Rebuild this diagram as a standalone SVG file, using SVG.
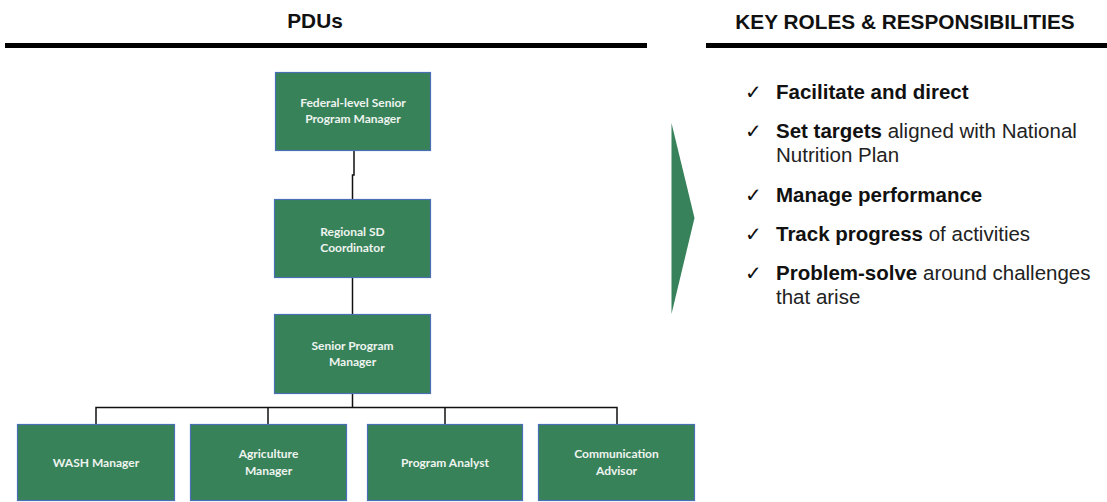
<svg xmlns="http://www.w3.org/2000/svg" width="1107" height="502" viewBox="0 0 1107 502">
<style>
.hdr{font-family:"Liberation Sans",Arial,sans-serif;font-weight:bold;font-size:20.8px;fill:#111;}
.box{fill:#38825A;stroke:#4A6FB5;stroke-width:1.2;}
.bt{font-family:Lato,"Open Sans",sans-serif;font-weight:bold;font-size:12px;fill:#EEF4EF;text-anchor:middle;}
.con{fill:none;stroke:#111;stroke-width:1.5;}
.it{font-family:"Liberation Sans",Arial,sans-serif;font-size:20.5px;fill:#222;}
.b{font-weight:bold;fill:#111;}
.ck{font-family:"DejaVu Sans",sans-serif;font-size:20px;fill:#111;}
</style>
<rect width="1107" height="502" fill="#fff"/>
<g id="headers">
<text class="hdr" x="315" y="28" text-anchor="middle">PDUs</text>
<rect x="5" y="43" width="642" height="5" fill="#000"/>
<text class="hdr" x="905" y="29" text-anchor="middle">KEY ROLES &amp; RESPONSIBILITIES</text>
<rect x="706" y="43" width="401" height="5" fill="#000"/>
</g>
<g id="connectors">
<path class="con" d="M354,151 V175 H352.5 V199"/>
<path class="con" d="M352.5,278 V314"/>
<path class="con" d="M352.5,394 V407.5"/>
<path class="con" d="M96,424 V407.5 H617 V424"/>
<path class="con" d="M268,407.5 V424"/>
<path class="con" d="M445,407.5 V424"/>
</g>
<g id="n-federal">
<rect class="box" x="275.5" y="72.5" width="155" height="78"/>
<text class="bt" x="353" y="107">Federal-level Senior</text>
<text class="bt" x="353" y="123">Program Manager</text>
</g>
<g id="n-regional">
<rect class="box" x="274.5" y="199.5" width="156" height="78"/>
<text class="bt" x="352.5" y="236">Regional SD</text>
<text class="bt" x="352.5" y="252">Coordinator</text>
</g>
<g id="n-senior">
<rect class="box" x="274.5" y="314.5" width="156" height="79"/>
<text class="bt" x="352.5" y="350">Senior Program</text>
<text class="bt" x="352.5" y="366">Manager</text>
</g>
<g id="n-wash">
<rect class="box" x="17.5" y="424.5" width="157" height="76"/>
<text class="bt" x="96" y="467">WASH Manager</text>
</g>
<g id="n-agri">
<rect class="box" x="190.5" y="424.5" width="156" height="76"/>
<text class="bt" x="268.5" y="458">Agriculture</text>
<text class="bt" x="268.5" y="475">Manager</text>
</g>
<g id="n-analyst">
<rect class="box" x="367.5" y="424.5" width="155" height="76"/>
<text class="bt" x="445" y="467">Program Analyst</text>
</g>
<g id="n-comm">
<rect class="box" x="538.5" y="424.5" width="156" height="76"/>
<text class="bt" x="616.5" y="458">Communication</text>
<text class="bt" x="616.5" y="475">Advisor</text>
</g>
<g id="chevron">
<polygon points="671.5,123 694.5,218 671.5,314" fill="#37825A"/>
</g>
<g id="roles">
<text class="ck" x="745" y="99">✓</text>
<text class="it" x="776" y="99"><tspan class="b">Facilitate and direct</tspan></text>
<text class="ck" x="745" y="138">✓</text>
<text class="it" x="776" y="138"><tspan class="b">Set targets</tspan> aligned with National</text>
<text class="it" x="776" y="162">Nutrition Plan</text>
<text class="ck" x="745" y="202">✓</text>
<text class="it" x="776" y="202"><tspan class="b">Manage performance</tspan></text>
<text class="ck" x="745" y="241">✓</text>
<text class="it" x="776" y="241"><tspan class="b">Track progress</tspan> of activities</text>
<text class="ck" x="745" y="280">✓</text>
<text class="it" x="776" y="280"><tspan class="b">Problem-solve</tspan> around challenges</text>
<text class="it" x="776" y="304">that arise</text>
</g>
</svg>
